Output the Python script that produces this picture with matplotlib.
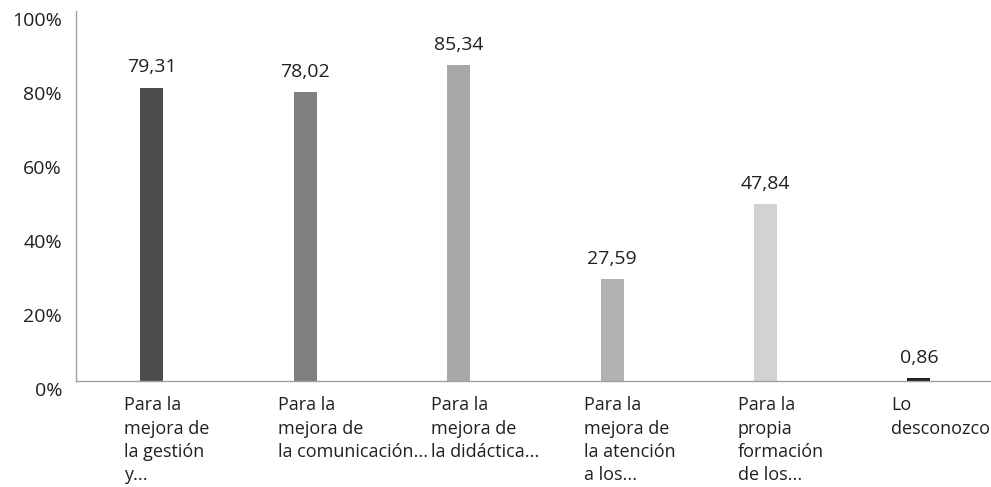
import matplotlib
matplotlib.use('Agg')
import matplotlib.pyplot as plt
import matplotlib.transforms as mtransforms
import numpy as np

plt.rcParams['font.family'] = ['Open Sans', 'DejaVu Sans']

# ---------- Data ----------
categories = [
    "Para la\nmejora de\nla gestión\ny...",
    "Para la\nmejora de\nla comunicación...",
    "Para la\nmejora de\nla didáctica...",
    "Para la\nmejora de\nla atención\na los...",
    "Para la\npropia\nformación\nde los...",
    "Lo\ndesconozco",
]
values = [79.31, 78.02, 85.34, 27.59, 47.84, 0.86]
value_labels = ["79,31", "78,02", "85,34", "27,59", "47,84", "0,86"]
bar_colors = ["#4d4d4f", "#808083", "#a7a8aa", "#b1b2b4", "#d1d2d4", "#231f20"]
yticks = [0, 20, 40, 60, 80, 100]
ytick_labels = ["0%", "20%", "40%", "60%", "80%", "100%"]

text_color = "#231f20"

# ---------- Figure ----------
fig = plt.figure(figsize=(9.91, 4.87), dpi=100)
ax = fig.add_axes([76 / 991, (487 - 381) / 487, 915 / 991, 370 / 487])

x = np.arange(len(values))
ax.bar(x, values, width=0.15, color=bar_colors, zorder=2)

ax.set_xlim(-0.495, 5.47)
ax.set_ylim(0, 100)

for xi, v, lab in zip(x, values, value_labels):
    ax.annotate(lab, (xi, v), xytext=(0, 8), textcoords='offset points',
                ha='center', va='bottom', fontsize=14, color=text_color)

# category labels, left aligned under each bar
for xi, cat in zip(x, categories):
    ax.annotate(cat, (xi, 0), xytext=(-20, -11), textcoords='offset points',
                ha='left', va='top', fontsize=13, color=text_color,
                linespacing=1.38, annotation_clip=False)

ax.set_xticks([])
ax.set_yticks(yticks)
ax.set_yticklabels(ytick_labels, fontsize=14, color=text_color)
ax.tick_params(axis='y', length=0, pad=10)
offset = mtransforms.ScaledTranslation(0, -8 / 100, fig.dpi_scale_trans)
for lbl in ax.get_yticklabels():
    lbl.set_transform(lbl.get_transform() + offset)

for side in ['top', 'right']:
    ax.spines[side].set_visible(False)
for side in ['left', 'bottom']:
    ax.spines[side].set_color('#a0a0a0')
    ax.spines[side].set_linewidth(1.0)

plt.savefig('out.png', dpi=100)
